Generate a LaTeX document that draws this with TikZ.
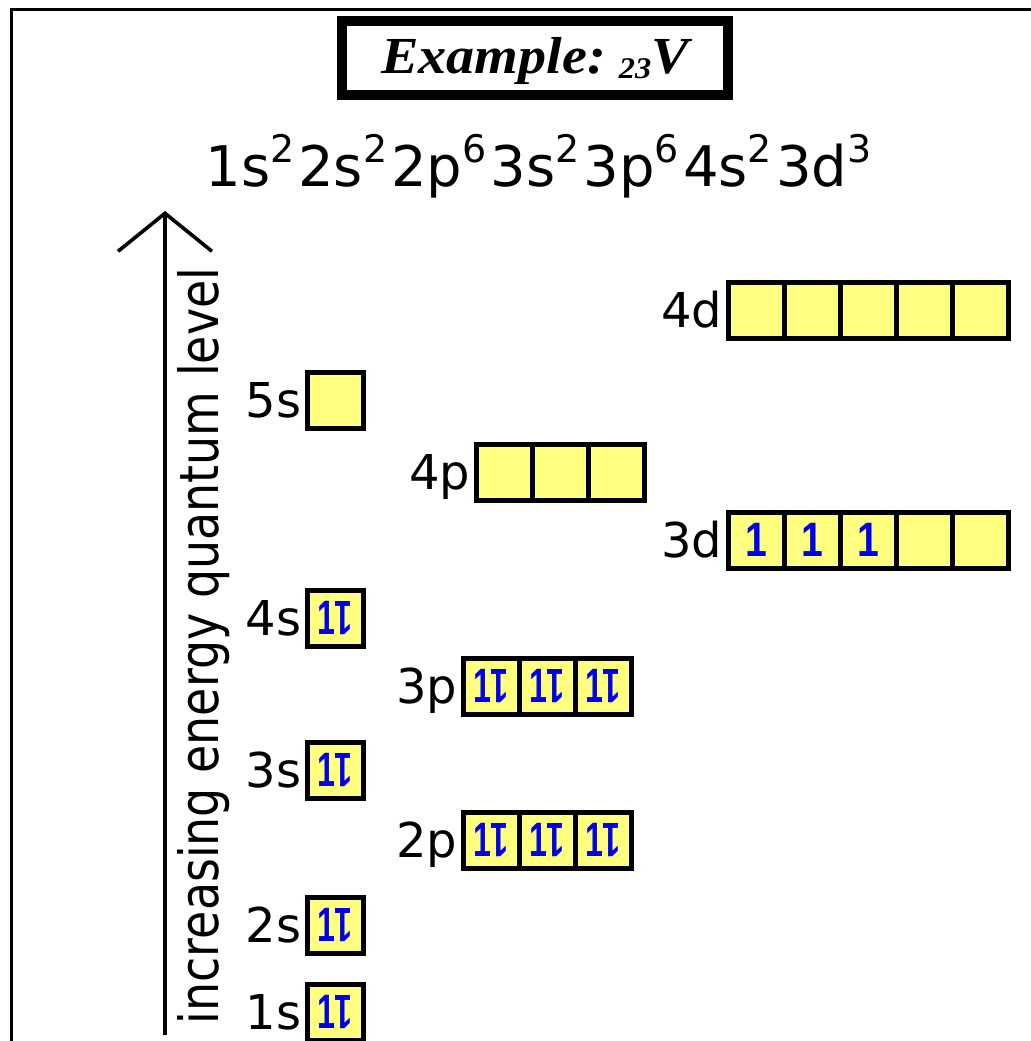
\documentclass[tikz,border=0pt]{standalone}
\usepackage{fontspec}
\usepackage{graphicx}
\setmainfont{DejaVu Sans}
\newfontfamily\titlefont{Liberation Serif}
\newfontfamily\spinfont{Liberation Sans}
\usetikzlibrary{positioning,arrows.meta}
\definecolor{orbfill}{RGB}{255,255,128}
\definecolor{spinblue}{RGB}{0,0,235}
\newcommand{\spinup}{\scalebox{0.85}[1.05]{1}}
\newcommand{\spinpair}{\scalebox{0.7}[1.05]{1\rotatebox[origin=c]{180}{1}}}
\newcommand{\shell}[2]{#1\raisebox{12pt}{\fontsize{19}{19}\selectfont #2}\kern2pt}
\tikzset{
  orb/.style={draw, line width=2.5pt, fill=orbfill, minimum size=28pt, inner sep=0pt,
    text=spinblue, font=\spinfont\bfseries\fontsize{23}{23}\selectfont},
  sublevel/.style={inner sep=1.5pt, text height=17pt, text depth=0pt,
    font=\fontsize{24}{24}\selectfont}
}

\begin{document}
\begin{tikzpicture}[x=0.5pt,y=-0.5pt]
\useasboundingbox (0,0) rectangle (1031,1041);
\draw[line width=1.5pt] (11,1041) -- (11,9) -- (1031,9);
\node[draw, line width=5pt, minimum width=193pt, minimum height=37pt, inner sep=0pt,
  text height=16pt, text depth=1pt,
  font=\titlefont\bfseries\itshape\fontsize{26}{26}\selectfont] (title) at (535,58)
  {\scalebox{1.08}[1]{Example:\kern6pt\raisebox{-2.5pt}{\fontsize{15}{15}\selectfont 23}V}};
\node[anchor=base west, inner sep=0pt, font=\fontsize{28}{28}\selectfont] (config) at (205,186)
  {\shell{1s}{2}\shell{2s}{2}\shell{2p}{6}\shell{3s}{2}\shell{3p}{6}\shell{4s}{2}3d\raisebox{12pt}{\fontsize{19}{19}\selectfont 3}};
\coordinate (abot) at (165,1035);
\coordinate (atop) at (165,211);
\draw[line width=2pt, -{Straight Barb[length=19pt,width=47pt,line width=1.8pt]}] (abot) -- (atop);
\node[rotate=90, anchor=base, inner sep=0pt, font=\fontsize{27}{27}\selectfont] (axislabel) at (218,646)
  {\scalebox{0.85}[1]{increasing energy quantum level}};
\node[orb] (s1) at (335,1012) {\spinpair};
\node[orb] (s2) at (335,925) {\spinpair};
\node[orb] (s3) at (335,770) {\spinpair};
\node[orb] (s4) at (335,618) {\spinpair};
\node[orb] (s5) at (335,400) {};
\node[orb] (p2a) at (491,840) {\spinpair};
\node[orb] (p2b) at (547,840) {\spinpair};
\node[orb] (p2c) at (603,840) {\spinpair};
\node[orb] (p3a) at (491,686) {\spinpair};
\node[orb] (p3b) at (547,686) {\spinpair};
\node[orb] (p3c) at (603,686) {\spinpair};
\node[orb] (p4a) at (504,472) {};
\node[orb] (p4b) at (560,472) {};
\node[orb] (p4c) at (616,472) {};
\node[orb] (d3a) at (756,540) {\spinup};
\node[orb] (d3b) at (812,540) {\spinup};
\node[orb] (d3c) at (868,540) {\spinup};
\node[orb] (d3d) at (924,540) {};
\node[orb] (d3e) at (980,540) {};
\node[orb] (d4a) at (756,310) {};
\node[orb] (d4b) at (812,310) {};
\node[orb] (d4c) at (868,310) {};
\node[orb] (d4d) at (924,310) {};
\node[orb] (d4e) at (980,310) {};
\node[sublevel, left=0pt of s1] (l1s) {1s};
\node[sublevel, left=0pt of s2] (l2s) {2s};
\node[sublevel, left=0pt of s3] (l3s) {3s};
\node[sublevel, left=0pt of s4] (l4s) {4s};
\node[sublevel, left=0pt of s5] (l5s) {5s};
\node[sublevel, left=0pt of p2a] (l2p) {2p};
\node[sublevel, left=0pt of p3a] (l3p) {3p};
\node[sublevel, left=0pt of p4a] (l4p) {4p};
\node[sublevel, left=0pt of d3a] (l3d) {3d};
\node[sublevel, left=0pt of d4a] (l4d) {4d};
\end{tikzpicture}
\end{document}
